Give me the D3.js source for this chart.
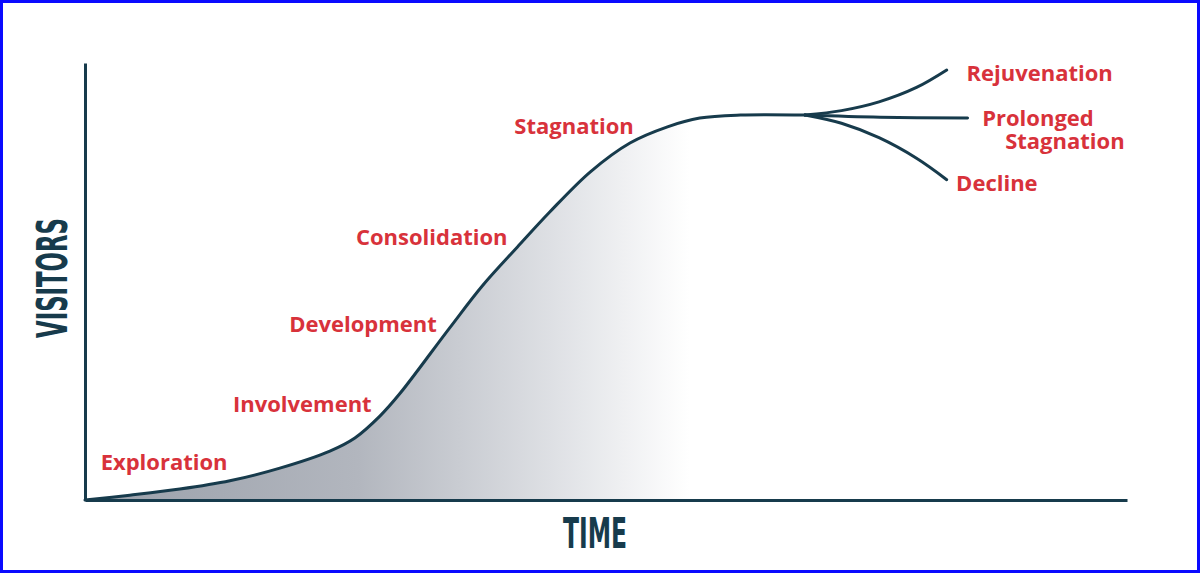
<!DOCTYPE html>
<html>
<head>
<meta charset="utf-8">
<script src="https://cdn.jsdelivr.net/npm/d3@7"></script>
<style>
  html, body { margin: 0; padding: 0; background: #fff; }
  svg { display: block; }
  .stage { font-family: "Open Sans", sans-serif; font-weight: 700; fill: #d8323b; font-size: 22px; }
  .axis-title { font-family: "Liberation Sans Narrow", "DejaVu Sans Condensed", sans-serif; font-weight: 700; fill: #173b4c; }
</style>
</head>
<body>
<svg id="chart" width="1200" height="573"></svg>
<script>
// time (0-100) vs visitors (0-100)
const mainTime     = [0, 4.3, 9.1, 13.9, 18.7, 23.5, 25.9, 28.3, 30.2, 35.0, 38.2, 41.5, 44.6, 48.5, 52.3, 55.9, 59.0, 62.9, 69.1];
const mainVisitors = [0, 1.1, 2.5, 4.4, 7.3, 11.2, 14.2, 19.2, 24.3, 39.4, 49.2, 57.9, 65.9, 75.1, 81.7, 85.4, 87.4, 88.1, 88.1];

const branchTime = [69.1, 72.6, 76.2, 79.8, 82.7];
const rejuvenation = [88.1, 89.1, 91.1, 94.4, 98.4];
const decline      = [88.1, 86.2, 82.9, 78.2, 73.3];
const prolongedTime     = [69.1, 76.3, 84.7];
const prolongedVisitors = [88.1, 87.6, 87.4];

// stage labels and where they sit (time, visitors)
const stageNames = ["Exploration", "Involvement", "Development", "Consolidation", "Stagnation",
                    "Rejuvenation", "Prolonged\nStagnation", "Decline"];
const stageTime     = [1.5, 14.2, 19.6, 26.0, 41.2, 84.6, 86.1, 83.6];
const stageVisitors = [9.0, 22.2, 40.5, 60.4, 85.8, 97.9, 87.6, 72.8];

const xTitle = "TIME";
const yTitle = "VISITORS";

const margin = { left: 85, right: 73, top: 63, bottom: 73 };
const W = 1200, H = 573;
const width = W - margin.left - margin.right;
const height = H - margin.top - margin.bottom;
const ink = "#173b4c";

const svg = d3.select('#chart');

const x = d3.scaleLinear().domain([0, 100]).range([margin.left, margin.left + width]);
const y = d3.scaleLinear().domain([0, 100]).range([margin.top + height, margin.top]);

// gradient under the main curve
const defs = svg.append('defs');
const grad = defs.append('linearGradient')
    .attr('id', 'fade')
    .attr('gradientUnits', 'userSpaceOnUse')
    .attr('x1', x(0)).attr('x2', x(58))
    .attr('y1', 0).attr('y2', 0);
grad.append('stop').attr('offset', 0).attr('stop-color', '#9aa0aa');
grad.append('stop').attr('offset', 0.45).attr('stop-color', '#b2b6be');
grad.append('stop').attr('offset', 0.78).attr('stop-color', '#dfe1e5');
grad.append('stop').attr('offset', 1).attr('stop-color', '#ffffff');

const mainData = mainTime.map((t, i) => ({ x: t, y: mainVisitors[i] }));

const area = d3.area()
    .x(d => x(d.x))
    .y0(y(0))
    .y1(d => y(d.y))
    .curve(d3.curveCatmullRom.alpha(0.5));

const line = d3.line()
    .x(d => x(d.x))
    .y(d => y(d.y))
    .curve(d3.curveCatmullRom.alpha(0.5));

svg.append('path')
    .attr('d', area(mainData))
    .attr('fill', 'url(#fade)');

// axes without ticks
svg.append('g')
    .attr('transform', 'translate(' + x(0) + ',0)')
    .call(d3.axisLeft(y).ticks(0).tickSize(0).tickSizeOuter(0))
    .call(g => g.select('.domain').attr('stroke', ink).attr('stroke-width', 3));

svg.append('g')
    .attr('transform', 'translate(0,' + y(0) + ')')
    .call(d3.axisBottom(x).ticks(0).tickSize(0).tickSizeOuter(0))
    .call(g => g.select('.domain').attr('stroke', ink).attr('stroke-width', 3));

// curves
const curves = [
    mainData,
    branchTime.map((t, i) => ({ x: t, y: rejuvenation[i] })),
    branchTime.map((t, i) => ({ x: t, y: decline[i] })),
    prolongedTime.map((t, i) => ({ x: t, y: prolongedVisitors[i] }))
];
svg.selectAll('path.curve')
    .data(curves)
    .enter()
    .append('path')
    .attr('class', 'curve')
    .attr('d', d => line(d))
    .attr('fill', 'none')
    .attr('stroke', ink)
    .attr('stroke-width', 3)
    .attr('stroke-linecap', 'round');

// stage labels (a "\n" breaks onto an indented second line)
const labels = svg.selectAll('text.stage')
    .data(stageNames)
    .enter()
    .append('text')
    .attr('class', 'stage')
    .attr('x', (d, i) => x(stageTime[i]))
    .attr('y', (d, i) => y(stageVisitors[i]))
    .attr('dominant-baseline', 'central');

labels.each(function(d, i) {
    const parts = d.split('\n');
    const t = d3.select(this);
    parts.forEach((p, j) => {
        t.append('tspan')
            .attr('x', x(stageTime[i]) + j * 23)
            .attr('dy', j === 0 ? 0 : 23)
            .text(p);
    });
});

// axis titles
svg.append('text')
    .attr('class', 'axis-title')
    .attr('x', 595)
    .attr('y', 548)
    .attr('text-anchor', 'middle')
    .attr('font-size', 42)
    .attr('textLength', 64)
    .attr('lengthAdjust', 'spacingAndGlyphs')
    .text(xTitle);

svg.append('text')
    .attr('class', 'axis-title')
    .attr('transform', 'translate(67,278) rotate(-90)')
    .attr('text-anchor', 'middle')
    .attr('font-size', 42)
    .attr('textLength', 120)
    .attr('lengthAdjust', 'spacingAndGlyphs')
    .text(yTitle);

// frame
svg.append('rect')
    .attr('x', 1.5).attr('y', 1.5)
    .attr('width', W - 3).attr('height', H - 3)
    .attr('fill', 'none')
    .attr('stroke', '#0a0aff')
    .attr('stroke-width', 3);
</script>
</body>
</html>
